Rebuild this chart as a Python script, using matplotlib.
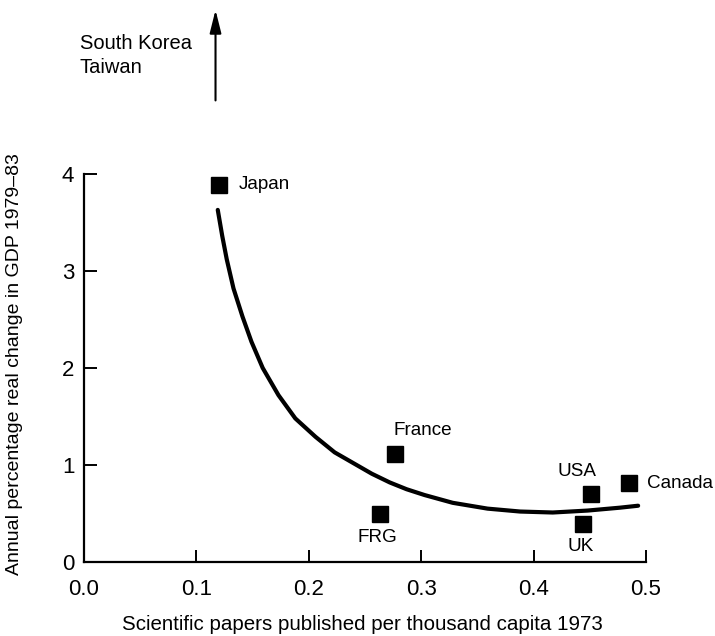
import matplotlib.pyplot as plt

plt.rcParams['font.family'] = ['Liberation Sans', 'DejaVu Sans']

# countries
names = ['Japan', 'France', 'FRG', 'USA', 'UK', 'Canada']
papers = [0.120, 0.277, 0.263, 0.451, 0.444, 0.485]
gdp = [3.89, 1.11, 0.49, 0.70, 0.39, 0.81]

# fitted curve
curve_x = [0.119, 0.123, 0.127, 0.133, 0.141, 0.149, 0.159, 0.173, 0.188,
           0.206, 0.223, 0.241, 0.256, 0.272, 0.287, 0.303, 0.328, 0.359,
           0.388, 0.417, 0.448, 0.477, 0.493]
curve_y = [3.63, 3.36, 3.12, 2.82, 2.53, 2.27, 2.00, 1.72, 1.48,
           1.29, 1.13, 1.01, 0.91, 0.82, 0.75, 0.69, 0.61, 0.55,
           0.52, 0.51, 0.53, 0.56, 0.58]

# label placement (x, y, ha)
label_pos = {
    'Japan': (0.138, 3.89, 'left'),
    'France': (0.301, 1.36, 'center'),
    'FRG': (0.261, 0.25, 'center'),
    'USA': (0.439, 0.93, 'center'),
    'UK': (0.442, 0.155, 'center'),
    'Canada': (0.501, 0.81, 'left'),
}

fig = plt.figure(figsize=(7.15, 6.36), dpi=100)
ax = fig.add_axes([0.1175, 0.1164, 0.786, 0.610])

ax.plot(curve_x, curve_y, 'k-', lw=3, solid_capstyle='round',
        solid_joinstyle='round')
ax.plot(papers, gdp, 'ks', ms=11)

for n in names:
    x, y, ha = label_pos[n]
    ax.text(x, y, n, ha=ha, va='center', fontsize=13.6)

# off-scale countries
ax.annotate('', xy=(0.117, 5.72), xytext=(0.117, 4.73),
            arrowprops=dict(arrowstyle='-|>,head_width=0.35,head_length=1.4',
                            color='k', lw=1.5), annotation_clip=False)
ax.text(-0.004, 5.22, 'South Korea\nTaiwan', ha='left', va='center',
        fontsize=14.5, linespacing=1.35, clip_on=False)

ax.set_xlim(0, 0.5)
ax.set_ylim(0, 4)
ax.set_xticks([0.0, 0.1, 0.2, 0.3, 0.4, 0.5])
ax.set_xticklabels(['0.0', '0.1', '0.2', '0.3', '0.4', '0.5'])
ax.set_yticks([0, 1, 2, 3, 4])

for s in ['top', 'right']:
    ax.spines[s].set_visible(False)
for s in ['left', 'bottom']:
    ax.spines[s].set_linewidth(1.6)

ax.tick_params(axis='x', direction='in', length=9, width=1.4, pad=12, labelsize=16)
ax.tick_params(axis='y', direction='in', length=9, width=1.4, pad=7, labelsize=16)

ax.set_xlabel('Scientific papers published per thousand capita 1973', fontsize=14.8)
ax.xaxis.set_label_coords(0.495, -0.162)
ax.set_ylabel('Annual percentage real change in GDP 1979\u201383', fontsize=14)
ax.yaxis.set_label_coords(-0.123, 0.51)
ax.xaxis.label.set_va('center')
ax.yaxis.label.set_va('center')

plt.savefig('out.png', dpi=100)
